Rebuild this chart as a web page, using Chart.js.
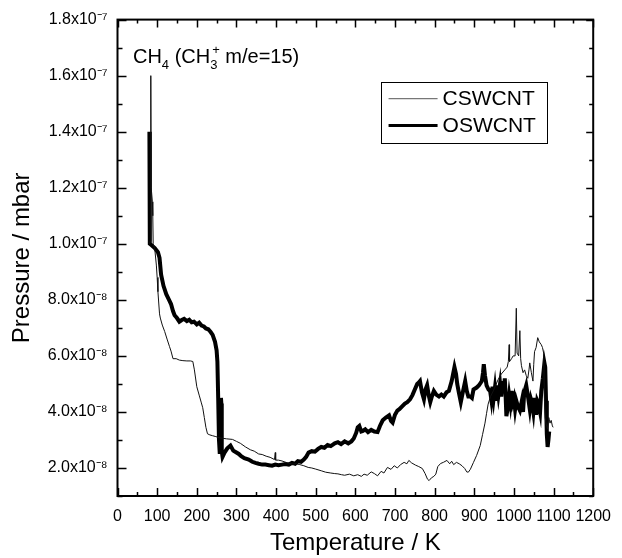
<!DOCTYPE html>
<html>
<head>
<meta charset="utf-8">
<script src="https://cdn.jsdelivr.net/npm/chart.js@4.4.0/dist/chart.umd.min.js"></script>
<style>
body{margin:0;background:#fff;}
#c{display:block;}
</style>
</head>
<body>
<canvas id="c" width="622" height="558"></canvas>
<script>
// pressure values are in units of 1e-8 mbar
var cswT = [81,83,84,85,88,89,90,94,98,100,102,106,108,113,119,125,131,135,140,148,156,165,175,184,190,194,200,206,211,215,219,223,227,233,240,248,256,265,275,290,300,310,323,335,345,356,365,375,385,396,398,399,406,415,425,440,450,460,470,481,490,500,514,525,538,548,556,565,573,585,596,606,615,622,630,640,648,656,665,672,681,690,698,706,714,723,730,735,742,752,760,769,776,782,786,792,798,803,808,815,822,831,838,843,848,855,862,869,876,881,885,890,898,906,915,921,927,931,935,941,948,954,960,968,977,983,986,988,989,994,998,1003,1006,1008,1012,1015,1017,1019,1023,1027,1031,1035,1038,1040,1044,1048,1050,1052,1056,1060,1064,1069,1072,1075,1077,1079,1081,1085,1088,1091,1094,1097,1099];
var cswP = [10.0,10.1,16.0,12.0,11.5,11.0,10.0,9.82,9.24,8.8,8.29,7.5,7.35,7.1,6.87,6.6,6.34,6.17,5.9,5.9,5.85,5.83,5.82,5.82,5.8,5.5,4.9,4.6,4.35,4.15,3.8,3.45,3.22,3.18,3.15,3.12,3.08,3.06,3.04,3.02,2.95,2.88,2.75,2.65,2.6,2.5,2.48,2.42,2.38,2.3,2.55,2.28,2.28,2.25,2.2,2.14,2.15,2.12,2.08,2.02,2.0,1.96,1.9,1.85,1.82,1.8,1.79,1.76,1.74,1.78,1.72,1.76,1.7,1.78,1.74,1.86,1.8,1.72,1.88,1.82,2.02,1.95,2.08,2.0,2.12,2.2,2.15,2.27,2.18,2.1,2.05,1.98,1.8,1.6,1.55,1.65,1.7,1.78,2.05,2.16,2.2,2.27,2.15,2.24,2.12,2.2,2.15,2.08,1.98,1.86,1.85,1.95,2.2,2.45,2.8,3.2,3.6,3.95,4.28,4.55,4.75,4.95,5.15,5.35,5.5,5.6,5.8,6.4,5.8,5.9,6.0,6.0,7.7,6.1,6.0,6.9,5.9,5.65,5.4,5.5,5.3,5.2,5.5,5.75,5.4,5.1,5.7,6.15,6.3,6.65,6.5,6.4,6.3,6.1,4.4,3.8,3.57,3.4,3.8,3.6,3.7,3.5,3.45];

var oswT = [80.5,81.5,86,94,102,106,110,116,123,130,135,140,144,150,156,162,168,175,181,187,193,200,206,212,218,223,229,235,240,246,250,252,254,256,258,260,261,262,263,265,270,277,285,292,300,306,312,320,331,340,348,356,365,373,382,390,398,406,415,423,432,440,448,455,463,470,476,482,490,498,506,514,522,530,538,548,556,564,573,582,590,596,602,606,610,615,619,625,632,640,648,656,662,669,677,685,690,694,700,706,711,718,725,731,738,744,750,756,760,763,768,773,777,781,785,789,793,798,804,811,817,823,830,836,843,850,854,857,861,866,871,877,881,885,890,894,898,906,912,919,922,924,927,931,936,940,943,946,949,952,955,958,961,965,968,971,974,977,979,981,985,988,991,994,997,1000,1003,1006,1010,1015,1020,1023,1026,1031,1036,1040,1043,1046,1049,1052,1056,1059,1062,1066,1069,1073,1077,1079,1081,1083,1085,1087,1089];
var oswP = [14.0,10.0,9.95,9.85,9.7,9.5,8.9,8.5,8.2,8.0,7.85,7.6,7.45,7.35,7.22,7.28,7.32,7.24,7.29,7.2,7.22,7.12,7.18,7.08,7.05,6.98,6.95,6.85,6.75,6.5,6.2,5.8,4.5,3.0,2.5,3.6,4.5,4.3,2.6,2.4,2.55,2.7,2.8,2.62,2.55,2.5,2.42,2.35,2.3,2.22,2.18,2.15,2.12,2.12,2.1,2.08,2.12,2.1,2.12,2.14,2.12,2.18,2.15,2.24,2.22,2.3,2.4,2.55,2.6,2.58,2.68,2.75,2.72,2.82,2.78,2.88,2.92,2.85,2.95,2.88,2.95,3.05,3.25,3.45,3.5,3.3,3.32,3.38,3.28,3.36,3.3,3.28,3.5,3.7,3.8,3.88,3.68,3.62,3.9,4.05,4.1,4.2,4.3,4.35,4.45,4.6,4.8,5.0,5.05,5.1,4.7,4.45,4.8,4.95,4.6,4.35,4.55,4.75,4.62,4.55,4.62,4.55,4.7,4.75,5.1,5.6,5.35,5.0,4.7,4.35,4.7,5.1,4.75,4.55,4.55,4.5,4.8,4.87,4.95,5.1,5.4,5.7,5.3,4.95,4.8,4.75,4.45,4.9,4.5,4.85,4.4,4.95,4.6,5.0,4.55,5.1,4.7,5.2,4.6,3.85,4.2,4.6,4.3,4.75,4.35,4.5,4.1,4.4,4.2,4.05,4.4,4.0,4.7,4.95,4.5,4.1,4.45,4.3,4.0,4.5,3.9,4.4,4.3,4.0,4.75,5.2,5.75,5.6,4.4,3.2,2.75,3.0,3.3];

var seriesNames = ['CSWCNT','OSWCNT'];
var yTickValues = [2,4,6,8,10,12,14,16,18];
var yTickLabels = ['2.0x10\u207B\u2078','4.0x10\u207B\u2078','6.0x10\u207B\u2078','8.0x10\u207B\u2078','1.0x10\u207B\u2077','1.2x10\u207B\u2077','1.4x10\u207B\u2077','1.6x10\u207B\u2077','1.8x10\u207B\u2077'];
var xTickValues = [0,100,200,300,400,500,600,700,800,900,1000,1100,1200];

function pts(xs, ys){
  var out = [];
  for (var i = 0; i < xs.length; i++) out.push({x: xs[i], y: ys[i]});
  return out;
}

// frame, inward ticks, legend box and the label
var decor = {
  id: 'decor',
  afterDraw: function(chart){
    var ctx = chart.ctx, a = chart.chartArea;
    var xs = chart.scales.x, ys = chart.scales.y;
    ctx.save();
    ctx.strokeStyle = '#000';
    ctx.lineWidth = 2;
    ctx.strokeRect(a.left, a.top, a.right - a.left, a.bottom - a.top);
    ctx.lineWidth = 1.5;
    ctx.beginPath();
    xs.ticks.forEach(function(t){
      var px = Math.round(xs.getPixelForValue(t.value)) + 0.5;
      var len = xTickValues.indexOf(t.value) >= 0 ? 8 : 4;
      ctx.moveTo(px, a.bottom); ctx.lineTo(px, a.bottom - len);
      ctx.moveTo(px, a.top); ctx.lineTo(px, a.top + len);
    });
    ys.ticks.forEach(function(t){
      var py = Math.round(ys.getPixelForValue(t.value)) + 0.5;
      var major = yTickValues.indexOf(Math.round(t.value)) >= 0;
      ctx.moveTo(a.left, py); ctx.lineTo(a.left + (major ? 9 : 5), py);
      ctx.moveTo(a.right, py); ctx.lineTo(a.right - (major ? 7 : 4), py);
    });
    ctx.stroke();

    // legend
    var lx = a.left + (a.right - a.left) * 0.553, ly = a.top + 62;
    var lw = 166, lh = 61;
    ctx.fillStyle = '#fff';
    ctx.fillRect(lx, ly, lw, lh);
    ctx.lineWidth = 1;
    ctx.strokeStyle = '#000';
    ctx.strokeRect(Math.round(lx) + 0.5, Math.round(ly) + 0.5, lw, lh);
    ctx.font = '21px "Liberation Sans", Arial, sans-serif';
    ctx.textBaseline = 'middle';
    ctx.fillStyle = '#000';
    chart.data.datasets.forEach(function(ds, i){
      var yy = ly + 17 + i * 27;
      ctx.strokeStyle = i === 0 ? '#777' : '#000';
      ctx.lineWidth = i === 0 ? 1.2 : 3;
      ctx.beginPath();
      ctx.moveTo(lx + 8, yy); ctx.lineTo(lx + 57, yy);
      ctx.stroke();
      ctx.fillText(ds.label, lx + 62, yy + 1);
    });

    // species label
    var tx = xs.getPixelForValue(39), ty = ys.getPixelForValue(16.45);
    ctx.textBaseline = 'alphabetic';
    var big = '20px "Liberation Sans", Arial, sans-serif';
    var small = '13px "Liberation Sans", Arial, sans-serif';
    var parts = [['CH', big, 0], ['4', small, 6], [' (CH', big, 0], ['3', small, 6], ['+', small, -9], [' m/e=15)', big, 0]];
    parts.forEach(function(p){
      ctx.font = p[1];
      ctx.fillText(p[0], tx, ty + p[2]);
      var w = ctx.measureText(p[0]).width;
      if (p[0] === '3') { tx += 2; return; } // superscript sits above the subscript
      tx += w;
    });
    ctx.restore();
  }
};

new Chart(document.getElementById('c'), {
  type: 'line',
  data: {
    datasets: [
      {label: seriesNames[0], data: pts(cswT, cswP), borderColor: '#111', borderWidth: 1, pointRadius: 0, tension: 0},
      {label: seriesNames[1], data: pts(oswT, oswP), borderColor: '#000', borderWidth: 4, pointRadius: 0, tension: 0}
    ]
  },
  options: {
    responsive: false,
    animation: false,
    layout: {padding: {top: 16, right: 24, left: 0, bottom: 0}},
    plugins: {legend: {display: false}, tooltip: {enabled: false}},
    scales: {
      x: {
        type: 'linear', min: 0, max: 1200,
        grid: {display: false, drawTicks: false},
        border: {display: false},
        afterFit: function(s){ s.height = 62; },
        ticks: {
          stepSize: 50, padding: 11, color: '#000', maxRotation: 0, autoSkip: false,
          font: {family: '"Liberation Sans", Arial, sans-serif', size: 16},
          callback: function(v){ return xTickValues.indexOf(v) >= 0 ? String(v) : ''; }
        },
        title: {display: true, text: 'Temperature / K', color: '#000', padding: {top: 0, bottom: 0},
          font: {family: '"Liberation Sans", Arial, sans-serif', size: 24}}
      },
      y: {
        type: 'linear', min: 1, max: 18,
        grid: {display: false, drawTicks: false},
        border: {display: false},
        afterFit: function(s){ s.width = 117.5; },
        ticks: {
          stepSize: 1, padding: 10, color: '#000', autoSkip: false,
          font: {family: '"Liberation Sans", Arial, sans-serif', size: 16},
          callback: function(v){
            var i = yTickValues.indexOf(Math.round(v * 1000) / 1000);
            return i >= 0 ? yTickLabels[i] : '';
          }
        },
        title: {display: true, text: 'Pressure / mbar', color: '#000', padding: {top: 8, bottom: 0},
          font: {family: '"Liberation Sans", Arial, sans-serif', size: 24}}
      }
    }
  },
  plugins: [decor]
});
</script>
</body>
</html>
